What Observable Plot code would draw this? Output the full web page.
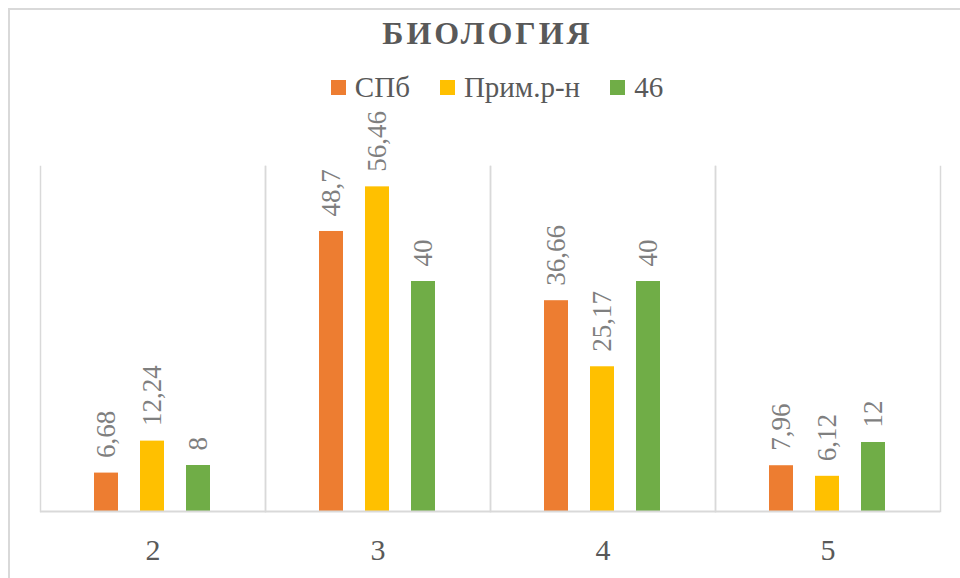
<!DOCTYPE html>
<html>
<head>
<meta charset="utf-8">
<script src="https://cdn.jsdelivr.net/npm/d3@7"></script>
<script src="https://cdn.jsdelivr.net/npm/@observablehq/plot@0.6"></script>
<style>
  html, body { margin: 0; padding: 0; background: #fff; overflow: hidden; }
  #wrap { position: relative; width: 960px; height: 578px; overflow: hidden; font-family: "Liberation Serif", "Tinos", "Times New Roman", "DejaVu Serif", serif; }
  #border { position: absolute; left: 8px; top: 8px; width: 1000px; height: 1000px; border-left: 2px solid #d9d9d9; border-top: 2px solid #d9d9d9; }
  #title { position: absolute; left: 0; top: 17px; width: 975px; text-align: center; font-size: 32px; line-height: 32px; font-weight: bold; letter-spacing: 3px; color: #595959; }
  #legend { position: absolute; left: 0; top: 73px; width: 994px; display: flex; justify-content: center; align-items: center; font-size: 29px; line-height: 28px; color: #595959; }
  .item { display: flex; align-items: center; margin: 0 15px; }
  .sw { width: 15px; height: 15px; margin-right: 9px; }
  #plot { position: absolute; left: 0; top: 100px; }
</style>
</head>
<body>
<div id="wrap">
  <div id="border"></div>
  <div id="title"></div>
  <div id="legend"></div>
  <div id="plot"></div>
</div>
<script>
const title = "БИОЛОГИЯ";
const categories = ["2", "3", "4", "5"];
const series = ["СПб", "Прим.р-н", "46"];
const colors = ["#ED7D31", "#FFC000", "#70AD47"];
const spb = [6.68, 48.7, 36.66, 7.96];
const prim = [12.24, 56.46, 25.17, 6.12];
const s46 = [8, 40, 40, 12];

const values = [spb, prim, s46];
const rows = [];
categories.forEach((c, i) => {
  series.forEach((s, j) => {
    const v = values[j][i];
    rows.push({cat: c, series: s, value: v, label: String(v).replace(".", ",")});
  });
});

document.getElementById("title").textContent = title;
const legend = document.getElementById("legend");
series.forEach((s, j) => {
  const it = document.createElement("div");
  it.className = "item";
  const sw = document.createElement("span");
  sw.className = "sw";
  sw.style.background = colors[j];
  const t = document.createElement("span");
  t.textContent = s;
  it.appendChild(sw);
  it.appendChild(t);
  legend.appendChild(it);
});

const chart = Plot.plot({
  width: 960,
  height: 478,
  marginTop: 66,
  marginBottom: 67,
  marginLeft: 39,
  marginRight: 20,
  style: {fontFamily: "'Liberation Serif', Tinos, 'Times New Roman', 'DejaVu Serif', serif", fontSize: "30px", background: "transparent", overflow: "visible"},
  fx: {domain: categories, padding: 0, label: null},
  x: {domain: series, paddingInner: 0.475, paddingOuter: 1.17, axis: null},
  y: {domain: [0, 60], axis: null},
  color: {domain: series, range: colors},
  marks: [
    Plot.frame({anchor: "left", stroke: "#d9d9d9", strokeWidth: 1.5}),
    Plot.frame({anchor: "right", stroke: "#d9d9d9", strokeWidth: 1.5}),
    Plot.barY(rows, {fx: "cat", x: "series", y: "value", fill: "series"}),
    Plot.ruleY([0], {stroke: "#d9d9d9", strokeWidth: 2}),
    Plot.text(rows, {fx: "cat", x: "series", y: "value", text: "label", rotate: -90, textAnchor: "start", dy: -15, fontSize: 27, fill: "#7f7f7f"}),
    Plot.axisFx({anchor: "bottom", tickSize: 0, tickPadding: 27, fontSize: 30, color: "#595959", label: null})
  ]
});
document.getElementById("plot").appendChild(chart);
</script>
</body>
</html>
